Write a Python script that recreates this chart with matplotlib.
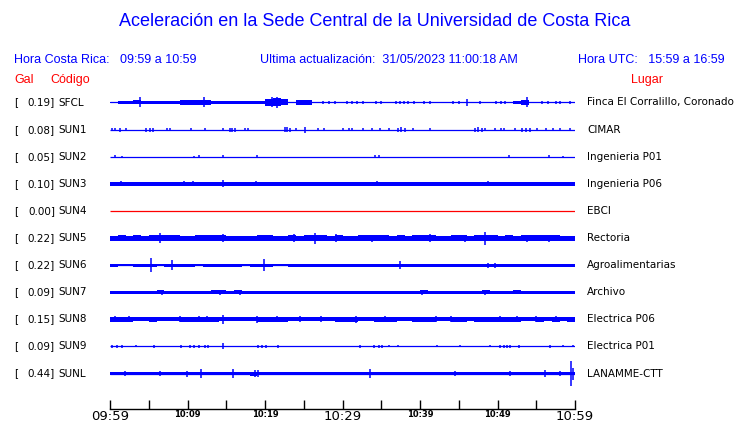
import matplotlib
matplotlib.use("Agg")
import matplotlib.pyplot as plt
import numpy as np

# --- data ------------------------------------------------------------------
codes = ["SFCL", "SUN1", "SUN2", "SUN3", "SUN4", "SUN5",
         "SUN6", "SUN7", "SUN8", "SUN9", "SUNL"]
gals = [0.19, 0.08, 0.05, 0.10, 0.00, 0.22, 0.22, 0.09, 0.15, 0.09, 0.44]
places = ["Finca El Corralillo, Coronado", "CIMAR", "Ingenieria P01",
          "Ingenieria P06", "EBCI", "Rectoria", "Agroalimentarias",
          "Archivo", "Electrica P06", "Electrica P01", "LANAMME-CTT"]

# minutes after 09:59
tick_minutes = [0, 5, 10, 15, 20, 25, 30, 35, 40, 45, 50, 55, 60]
tick_labels = ["09:59", "", "10:09", "", "10:19", "", "10:29", "",
               "10:39", "", "10:49", "", "10:59"]

# envelope half-height (px) for each minute, 0 = only the base line
env_sfcl = [0.8, 1.9, 1.9, 2.0, 1.9, 1.9, 1.9, 1.9, 1.4, 2.3,
            2.7, 2.7, 2.7, 1.8, 1.9, 1.9, 1.9, 1.9, 1.9, 1.9,
            3.5, 4.0, 3.0, 0.8, 2.4, 2.4, 2.1, 0, 0, 0,
            0, 0, 0, 0, 0, 0, 0, 0, 0, 0,
            0, 0, 0, 0, 0, 0, 2.5, 0, 0, 0,
            0, 0, 1.8, 2.1, 1.8, 0, 0, 0, 0, 0]
env_sun1 = [0] * 60
env_sun2 = [0] * 60
env_sun3 = [2.0, 2.0, 1.9, 1.9, 2.0, 1.9, 1.9, 2.0, 1.9, 1.9,
            1.9, 1.9, 2.0, 1.9, 1.9, 1.9, 1.9, 1.9, 1.9, 1.9,
            1.9, 1.9, 1.9, 1.8, 1.9, 1.9, 1.8, 1.9, 1.9, 1.8,
            1.9, 1.9, 1.8, 1.9, 1.9, 1.9, 1.9, 1.9, 1.9, 1.9,
            1.9, 1.9, 1.8, 1.9, 1.9, 1.9, 1.9, 1.9, 1.9, 1.9,
            1.9, 1.9, 1.9, 1.9, 1.9, 1.9, 1.9, 1.9, 1.9, 1.9]
env_sun4 = [0] * 60
env_sun5 = [2.5, 2.6, 2.5, 2.6, 2.5, 2.7, 2.9, 2.7, 2.6, 2.5,
            2.5, 2.6, 2.6, 2.7, 2.7, 2.5, 2.5, 2.5, 2.5, 2.6,
            2.6, 2.5, 2.5, 2.7, 2.5, 2.6, 2.9, 2.6, 2.5, 2.7,
            2.5, 2.5, 2.6, 2.7, 2.6, 2.6, 2.5, 2.6, 2.5, 2.6,
            2.7, 2.6, 2.5, 2.5, 2.6, 2.7, 2.5, 2.6, 2.9, 2.6,
            2.5, 2.6, 2.5, 2.7, 2.6, 2.7, 2.9, 2.6, 2.5, 2.5]
env_sun6 = [1.5, 1.3, 1.2, 1.4, 1.5, 1.5, 1.3, 1.5, 1.4, 1.5,
            1.4, 1.3, 1.5, 1.5, 1.5, 1.4, 1.5, 1.3, 1.5, 1.5,
            1.4, 1.3, 1.3, 1.5, 1.4, 1.5, 1.5, 1.4, 1.5, 1.5,
            1.5, 1.4, 1.5, 1.5, 1.5, 1.5, 1.4, 1.5, 1.5, 1.5,
            1.5, 1.5, 1.5, 1.5, 1.5, 1.5, 1.4, 1.5, 1.5, 1.5,
            1.5, 1.5, 1.5, 1.5, 1.4, 1.4, 1.5, 1.5, 1.4, 1.5]
env_sun7 = [1.7, 1.7, 1.7, 1.7, 1.7, 1.7, 1.8, 1.7, 1.7, 1.7,
            1.7, 1.7, 1.7, 1.8, 1.8, 1.7, 1.8, 1.7, 1.7, 1.7,
            1.7, 1.7, 1.7, 1.7, 1.7, 1.7, 1.7, 1.7, 1.7, 1.7,
            1.7, 1.7, 1.7, 1.7, 1.7, 1.7, 1.7, 1.7, 1.7, 1.7,
            1.8, 1.7, 1.7, 1.7, 1.7, 1.7, 1.7, 1.7, 1.8, 1.7,
            1.7, 1.7, 1.8, 1.7, 1.7, 1.7, 1.7, 1.7, 1.7, 1.7]
env_sun8 = [2.5, 2.5, 2.4, 2.1, 2.1, 2.2, 2.1, 2.1, 2.1, 2.2,
            2.4, 2.5, 2.4, 2.2, 2.1, 2.1, 2.1, 2.1, 2.1, 2.2,
            2.4, 2.4, 2.2, 2.1, 2.1, 2.1, 2.1, 2.1, 2.1, 2.2,
            2.4, 2.5, 2.1, 2.1, 2.4, 2.5, 2.4, 2.1, 2.1, 2.2,
            2.4, 2.2, 2.1, 2.1, 2.2, 2.4, 2.1, 2.2, 2.4, 2.4,
            2.5, 2.4, 2.2, 2.1, 2.1, 2.2, 2.1, 2.2, 2.1, 2.5]
env_sun9 = [0] * 60
env_sunl = [1.7, 1.7, 1.7, 1.7, 1.7, 1.7, 1.7, 1.7, 1.7, 1.8,
            1.7, 1.8, 1.7, 1.7, 1.7, 1.8, 1.7, 1.7, 2.0, 1.8,
            1.7, 1.7, 1.7, 1.7, 1.7, 1.7, 1.7, 1.7, 1.7, 1.7,
            1.7, 1.7, 1.7, 1.7, 1.7, 1.7, 1.7, 1.7, 1.7, 1.7,
            1.7, 1.7, 1.7, 1.7, 1.7, 1.7, 1.7, 1.7, 1.7, 1.7,
            1.7, 1.7, 1.7, 1.7, 1.7, 1.7, 1.7, 1.7, 1.7, 1.7]

# isolated peaks: (minute, half-height px)
spk_sfcl = [(3.9, 5), (12.1, 5), (20.9, 5), (21.5, 5.5), (46.0, 3.5), (53.8, 5),
            (27.5, 1.5), (28.3, 1.5), (29.0, 1.5), (30.6, 1.5), (31.2, 1.5),
            (31.9, 1.5), (32.6, 1.5), (34.3, 1.5), (35.0, 1.5), (36.9, 1.5),
            (37.4, 1.5), (37.9, 1.5), (38.5, 1.5), (39.2, 1.5), (40.5, 1.5),
            (41.3, 1.5), (44.2, 1.5), (45.0, 1.5), (47.7, 1.5), (49.8, 1.5),
            (50.5, 1.5), (51.0, 1.5), (55.8, 1.5), (56.5, 1.5), (57.5, 1.5),
            (58.0, 1.5), (59.4, 1.5)]
spk_sun1 = [(0.2, 1.3), (0.7, 1.3), (1.3, 2), (2.1, 1.3), (4.7, 2), (5.2, 2),
            (5.6, 2), (7.3, 1.5), (7.8, 1.5), (10.4, 1.3), (12.2, 1.3),
            (14.6, 1.3), (15.5, 2), (15.8, 2), (16.1, 2), (17.4, 1.3),
            (17.8, 1.3), (22.6, 2.5), (22.9, 2.5), (23.2, 2), (24.0, 1.5),
            (25.2, 3), (26.8, 1.3), (27.6, 1.3), (30.0, 1.3), (30.8, 1.5),
            (31.2, 1.5), (32.7, 1.3), (33.8, 1.3), (34.8, 1.3), (36.0, 1.3),
            (37.2, 2), (37.6, 2.5), (38.1, 2), (39.1, 1.3), (41.3, 1.5),
            (47.1, 2), (47.5, 2.5), (48.0, 2), (48.4, 1.3), (49.7, 1.3),
            (50.5, 1.5), (50.9, 1.5), (52.3, 1.3), (53.1, 2), (53.7, 2),
            (54.2, 2), (55.1, 1.3), (56.3, 1.5), (57.2, 1.5), (58.1, 1.3),
            (59.4, 1.3)]
spk_sun2 = [(0.7, 1.3), (1.6, 1.0), (10.8, 1.0), (11.5, 1.3), (14.6, 1.3),
            (19.0, 1.3), (34.2, 1.3), (34.7, 1.3), (51.5, 1.3), (56.6, 1.3),
            (58.4, 1.0)]
spk_sun3 = [(1.4, 2.7), (9.5, 2.5), (10.7, 2.7), (14.6, 3.5), (18.9, 2.5),
            (34.4, 2.5), (48.8, 2.5)]
spk_sun4 = []
spk_sun5 = [(6.5, 5), (14.6, 4), (23.7, 4.3), (26.5, 5.5), (29.2, 4),
            (33.8, 3.5), (41.3, 4), (45.8, 3.5), (48.4, 6.5), (53.8, 3.5),
            (56.6, 3.5)]
spk_sun6 = [(5.3, 6.7), (8.0, 5.3), (19.9, 5.7), (37.4, 3.8), (48.8, 2.5),
            (49.7, 2.5)]
spk_sun7 = [(6.7, 2.5), (14.2, 2.7), (16.8, 2.5), (40.2, 2.5), (48.4, 2.5),
            (52.3, 2.0)]
spk_sun8 = [(0.6, 3), (14.6, 4.5), (19.0, 3.5), (31.8, 3.5), (50.3, 3),
            (2.5, 3), (9.0, 3), (11.5, 3), (12.5, 3), (21.5, 3), (24.5, 3),
            (27.2, 3), (35.5, 3), (42.0, 3), (44.0, 3), (52.5, 3), (55.0, 3),
            (57.5, 3)]
spk_sun9 = [(0.2, 1.3), (0.9, 1.3), (1.6, 1.3), (3.4, 1.0), (5.7, 1.3),
            (9.2, 1.3), (10.3, 1.3), (10.8, 1.3), (11.5, 1.3), (12.3, 1.3),
            (12.7, 1.3), (14.6, 3), (19.1, 1.3), (19.6, 1.3), (20.1, 1.3),
            (21.7, 1.3), (32.3, 1.3), (34.1, 1.3), (34.7, 1.3), (35.1, 1.3),
            (36.0, 1.0), (37.1, 1.0), (42.2, 1.0), (45.1, 1.0), (49.0, 1.0),
            (50.3, 1.7), (50.8, 1.7), (51.2, 1.7), (51.6, 1.7), (52.8, 1.3),
            (56.8, 1.3), (58.5, 1.0), (59.8, 1.0)]
spk_sunl = [(1.9, 2.5), (6.5, 2.3), (9.9, 3), (11.8, 4.7), (15.9, 4.7),
            (18.7, 3.3), (19.1, 3.3), (33.5, 4.5), (44.5, 2.5), (51.6, 2.5),
            (56.1, 3.5), (58.0, 2.5), (59.5, 12.5), (59.8, 6)]

envs = [env_sfcl, env_sun1, env_sun2, env_sun3, env_sun4, env_sun5,
        env_sun6, env_sun7, env_sun8, env_sun9, env_sunl]
spikes = [spk_sfcl, spk_sun1, spk_sun2, spk_sun3, spk_sun4, spk_sun5,
          spk_sun6, spk_sun7, spk_sun8, spk_sun9, spk_sunl]

# --- figure ------------------------------------------------------------------
W, H = 740, 423
BLUE = "#0000ff"
RED = "#ff0000"

fig = plt.figure(figsize=(W / 100, H / 100), dpi=100)
fig.patch.set_facecolor("white")

def fx(px):
    return px / W

def fy(py):
    return 1 - py / H

ax_top, ax_bot = 88, 409
ax = fig.add_axes([fx(110), fy(ax_bot), fx(575) - fx(110), (ax_bot - ax_top) / H])
ax.set_xlim(0, 60)
ax.set_ylim(ax_bot, ax_top)   # y in pixel rows, top to bottom

row0, row_step = 102.5, 27.1
t_edges = np.arange(61)

for i, code in enumerate(codes):
    c = row0 + row_step * i
    col = RED if code == "SUN4" else BLUE
    ax.plot([t_edges[0], t_edges[-1]], [c, c], color=col, lw=0.9,
            solid_capstyle="butt")
    e = np.array(envs[i] + [envs[i][-1]], dtype=float)
    if e.max() > 0:
        ax.fill_between(t_edges, c - e, c + e, where=e > 0, step="post",
                        color=col, lw=0)
    if spikes[i]:
        st = [s[0] for s in spikes[i]]
        sh = np.array([s[1] for s in spikes[i]])
        ax.vlines(st, c - sh, c + sh, color=col, lw=1.1)

for side in ["left", "right", "top"]:
    ax.spines[side].set_visible(False)
ax.spines["bottom"].set_linewidth(1.0)
ax.set_yticks([])
ax.set_xticks(tick_minutes)
ax.set_xticklabels(tick_labels)
ax.tick_params(axis="x", direction="in", length=6.5, width=1.0, pad=0.5,
               labelsize=6)
for lab, m in zip(ax.get_xticklabels(), tick_minutes):
    if m in (0, 30, 60):
        lab.set_fontsize(9.5)
    else:
        lab.set_fontweight("bold")

# --- texts -------------------------------------------------------------------
hdr = dict(family="Liberation Sans", color=BLUE)
fig.text(fx(375), fy(22), "Aceleración en la Sede Central de la Universidad de Costa Rica",
         ha="center", va="center", fontsize=13, **hdr)
fig.text(fx(14), fy(60), "Hora Costa Rica:   09:59 a 10:59", ha="left",
         va="center", fontsize=9, **hdr)
fig.text(fx(260), fy(60), "Ultima actualización:  31/05/2023 11:00:18 AM",
         ha="left", va="center", fontsize=9, **hdr)
fig.text(fx(725), fy(60), "Hora UTC:   15:59 a 16:59", ha="right",
         va="center", fontsize=9, **hdr)

red = dict(family="Liberation Sans", color=RED, fontsize=9, va="center")
fig.text(fx(14), fy(80), "Gal", ha="left", **red)
fig.text(fx(50), fy(80), "Código", ha="left", **red)
fig.text(fx(631), fy(80), "Lugar", ha="left", **red)

for i, code in enumerate(codes):
    y = fy(row0 + row_step * i)
    fig.text(fx(14), y, "[", ha="left", va="center", fontsize=7.5)
    fig.text(fx(55), y, "%.2f]" % gals[i], ha="right", va="center", fontsize=7.5)
    fig.text(fx(58), y, code, ha="left", va="center", fontsize=7.5)
    fig.text(fx(587), y, places[i], ha="left", va="center", fontsize=7.5)

fig.savefig("out.png", dpi=100)
